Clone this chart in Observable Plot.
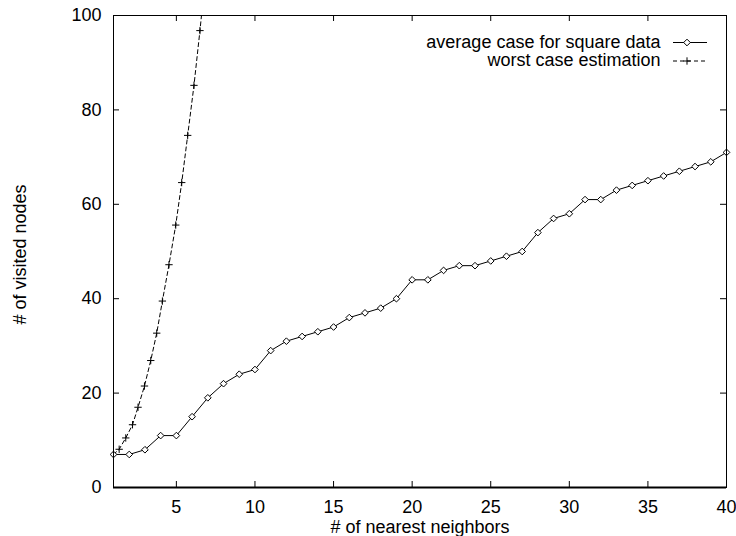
<!DOCTYPE html>
<html><head><meta charset="utf-8">
<script src="https://cdn.jsdelivr.net/npm/d3@7"></script>
<script src="https://cdn.jsdelivr.net/npm/@observablehq/plot@0.6"></script>
<style>html,body{margin:0;padding:0;background:#fff}</style>
</head><body><div id="chart"></div>
<script>
// ---- data ----
const neighbors = [1,2,3,4,5,6,7,8,9,10,11,12,13,14,15,16,17,18,19,20,21,22,23,24,25,26,27,28,29,30,31,32,33,34,35,36,37,38,39,40];
const avgVisited = [7,7,8,11,11,15,19,22,24,25,29,31,32,33,34,36,37,38,40,44,44,46,47,47,48,49,50,54,57,58,61,61,63,64,65,66,67,68,69,71];
const worstNeighbors = [1,1.36,1.78,2.21,2.56,2.97,3.37,3.75,4.11,4.53,4.96,5.34,5.72,6.12,6.5,6.9];
const worstVisited = [7,8.1,10.5,13.3,17,21.5,26.9,32.7,39.5,47.2,55.6,64.6,74.6,85.2,96.8,110];
const xTicks = [5,10,15,20,25,30,35,40];
const yTicks = [0,20,40,60,80,100];
const seriesNames = ["average case for square data", "worst case estimation"];
const xLabel = "# of nearest neighbors";
const yLabel = "# of visited nodes";

const avg = neighbors.map((x, i) => ({x, y: avgVisited[i]}));
const worst = worstNeighbors.map((x, i) => ({x, y: worstVisited[i]}));

const W = 736, H = 536, mL = 113, mR = 10, mT = 15, mB = 49;
const fw = W - mL - mR, fh = H - mT - mB, tk = 6;

const chart = Plot.plot({
  width: W, height: H,
  marginLeft: mL, marginRight: mR, marginTop: mT, marginBottom: mB,
  style: {fontFamily: "'Liberation Sans', Arial, Helvetica, sans-serif", fontSize: "18px", color: "#000", background: "#fff", overflow: "visible"},
  x: {domain: [1, 40]},
  y: {domain: [0, 100]},
  marks: [
    Plot.axisX(xTicks, {tickSize: 0, tickPadding: 13, label: null}),
    Plot.axisY(yTicks, {tickSize: 0, tickPadding: 12, label: null}),
    Plot.tickX(xTicks, {x: d => d, insetTop: fh - tk, stroke: "#000"}),
    Plot.tickX(xTicks, {x: d => d, insetBottom: fh - tk, stroke: "#000"}),
    Plot.tickY(yTicks, {y: d => d, insetRight: fw - tk, stroke: "#000"}),
    Plot.tickY(yTicks, {y: d => d, insetLeft: fw - tk, stroke: "#000"}),
    Plot.line(worst, {x: "x", y: "y", stroke: "#000", strokeWidth: 1, strokeDasharray: "4,3", clip: true}),
    Plot.dot(worst, {x: "x", y: "y", symbol: "plus", r: 2.5, stroke: "#000", strokeWidth: 1, clip: true}),
    Plot.line(avg, {x: "x", y: "y", stroke: "#000", strokeWidth: 1}),
    Plot.dot(avg, {x: "x", y: "y", symbol: "diamond2", r: 3, stroke: "#000", fill: "#fff", strokeWidth: 1}),
    Plot.frame({stroke: "#000"}),
    Plot.ruleY([0], {stroke: "#000", strokeWidth: 2}),
    Plot.text([xLabel], {frameAnchor: "bottom", dy: 39.5, text: d => d, textAnchor: "middle", lineAnchor: "middle"}),
    Plot.text([yLabel], {frameAnchor: "left", dx: -93.5, dy: 3, rotate: -90, text: d => d, textAnchor: "middle", lineAnchor: "middle"}),
    Plot.text([seriesNames[0]], {frameAnchor: "top-right", textAnchor: "end", dx: -66, dy: 26.5, text: d => d, lineAnchor: "middle"}),
    Plot.text([seriesNames[1]], {frameAnchor: "top-right", textAnchor: "end", dx: -66, dy: 45, text: d => d, lineAnchor: "middle"})
  ]
});

// legend samples (line + marker), placed relative to the frame
const svg = d3.select(chart);
const lx1 = W - mR - 53, lx2 = W - mR - 19, mx = W - mR - 39;
const rows = [
  {y: mT + 27.5, dash: null, sym: d3.symbolDiamond2, size: Math.PI * 9, fill: "#fff"},
  {y: mT + 46, dash: "4,3", sym: d3.symbolPlus, size: Math.PI * 6.25, fill: "none"}
];
rows.forEach(r => {
  svg.append("line").attr("x1", lx1).attr("x2", lx2).attr("y1", r.y).attr("y2", r.y)
    .attr("stroke", "#000").attr("stroke-width", 1).attr("stroke-dasharray", r.dash);
  svg.append("path").attr("d", d3.symbol(r.sym, r.size)()).attr("transform", `translate(${mx},${r.y})`)
    .attr("stroke", "#000").attr("fill", r.fill).attr("stroke-width", 1);
});

document.getElementById("chart").appendChild(chart);
</script>
</body></html>
